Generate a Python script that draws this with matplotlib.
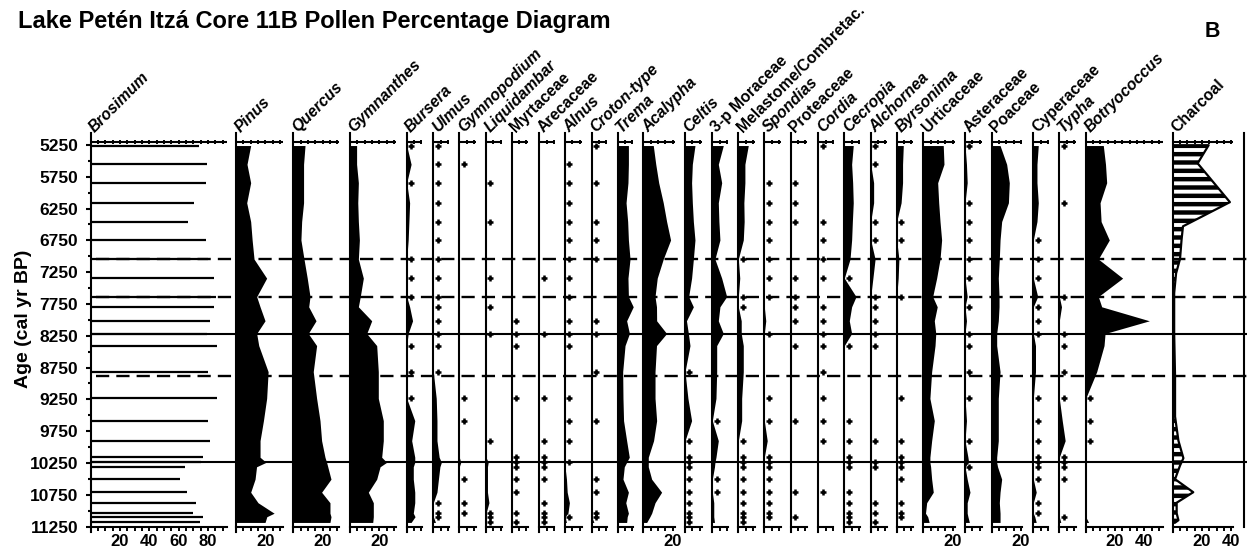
import numpy as np
import matplotlib
matplotlib.use("Agg")
import matplotlib.pyplot as plt
from matplotlib import transforms
from matplotlib.ticker import FixedLocator, MultipleLocator, NullFormatter

plt.rcParams['font.family'] = ['Liberation Sans', 'DejaVu Sans']
plt.rcParams['font.weight'] = 'bold'
plt.rcParams['hatch.linewidth'] = 3.2

# ---------------- data ----------------
ages = [5260, 5555, 5845, 6160, 6455, 6745, 7045, 7345, 7635, 7795, 8015, 8215, 8405,
        8815, 9235, 9585, 9900, 10160, 10240, 10310, 10505, 10710, 10875, 11040, 11095, 11185]

brosimum = [73.8, 79, 78.4, 70.6, 66, 78.4, 80, 84.3, 85.4, 84.3, 81.3, 79, 86.3,
            79.7, 86.3, 79.7, 81.4, 76.8, 75, 64.3, 61.1, 65.4, 71.6, 69.5, 76.8, 74.5]
pinus = [10, 7.5, 10, 7.3, 10, 11, 12.3, 20.9, 14.1, 16.4, 19.8, 14.1, 15.5,
         21.9, 20.9, 18.7, 16.4, 16.4, 20.5, 14, 13, 10, 15, 26, 21, 19.8]
quercus = [8, 7, 7, 7, 5.7, 5.2, 7.3, 9.5, 11.4, 10.5, 15.5, 10.2, 15.9,
           13.6, 15.9, 18.2, 19.3, 21.6, 22.7, 23.5, 25.7, 19.3, 25, 25, 25.7, 25]
gymnanthes = [4.5, 4.5, 5.7, 5.3, 5.7, 6.4, 5.7, 9.1, 7, 5.7, 14.8, 11.4, 18.2,
              19.3, 19.3, 22.7, 22.7, 21.6, 25, 20.5, 18.2, 12.5, 15.9, 15.9, 15.9, 15.5]
bursera = [0.5, 3, 0.5, 2, 1.5, 1, 0.5, 0.5, 0.5, 2, 4, 1, 0.5,
           0.5, 0.5, 5.5, 3.4, 5.5, 5.5, 4.5, 4.5, 5.5, 5.5, 4.5, 5.7, 3]
ulmus = [0.5, 0.5, 0.5, 0.5, 0.5, 0.5, 0.5, 0.5, 0.5, 0.5, 0.5, 0.5, 0.5,
         0.5, 2, 2.5, 2.5, 4, 5.5, 4.5, 3.5, 2.5, 0.5, 0.5, 0.5, 1.5]
gymnopodium = [0, 0.5, 0, 0, 0, 0, 0, 0, 0, 0, 0, 0, 0,
               0, 0.5, 0.5, 0, 0, 1, 0, 0.5, 0, 0.5, 0.5, 0, 0]
liquidambar = [0, 0, 0.5, 0, 0.5, 0, 0, 0.5, 0, 0.5, 0, 0.5, 0,
               0, 0, 0, 0.5, 0, 1.5, 1, 1, 1, 2, 0.5, 0.5, 0.5]
myrtaceae = [0, 0, 0, 0, 0, 0, 0, 0, 0, 0, 0.5, 0.5, 0.5,
             0, 0.5, 0, 0, 0.5, 0.5, 0.5, 0.5, 0.5, 0, 0.5, 0, 0.5]
arecaceae = [0, 0, 0, 0, 0, 0, 0, 0.5, 0, 0, 0, 0.5, 0,
             0, 0.5, 0, 0.5, 0.5, 0.5, 0.5, 0.5, 0, 0.5, 0.5, 0.5, 0.5]
alnus = [0, 0.5, 0.5, 0.5, 0.5, 0.5, 0.5, 0.5, 0.5, 0, 0.5, 0.5, 0.5,
         0, 0.5, 0.5, 0.5, 0, 0.5, 0, 1, 1.5, 3, 2, 0.5, 1]
croton = [0.5, 0, 0.5, 0, 0.5, 0.5, 0.5, 0, 0, 0, 0.5, 0.5, 0,
          0.5, 0, 0.5, 0, 0, 0, 0, 0.5, 0.5, 0, 0.5, 0.5, 1.5]
trema = [7.3, 7.3, 7, 5.7, 6.8, 7.3, 8.4, 7, 7.3, 10.6, 6.1, 8, 5,
         3.4, 3.6, 4, 6.1, 7.9, 6.1, 4.5, 3.6, 7.3, 5.5, 7.3, 6.5, 6.1]
acalypha = [6.8, 8.5, 10.5, 13.6, 15.9, 18.6, 13.6, 9.5, 8, 9, 9.1, 15.9, 9,
            8, 8, 9.1, 7, 3.4, 3.4, 3.4, 5.7, 12.5, 8, 5.7, 4.5, 2.3]
celtis = [6.8, 5, 4.5, 5, 5.7, 6.8, 5.7, 4.5, 2.5, 5.7, 1, 2.3, 3.4,
          0.5, 2, 4.5, 0.5, 0.5, 0.5, 0.5, 0.5, 0.5, 0.5, 0.5, 0.5, 0.5]
moraceae_3p = [7.5, 4.1, 6.4, 4.1, 4.5, 5.2, 1.8, 6.4, 9.8, 5.2, 4.1, 7.5, 3,
               3, 2.5, 0.8, 4.1, 2.5, 1.8, 1.5, 0.5, 0.5, 1, 1, 1, 1.5]
melastome = [6.8, 4.5, 4.5, 3.8, 4, 3.4, 0.5, 1, 0.5, 0.5, 2, 2, 3.4,
             3.4, 2.3, 2.3, 0.5, 0.5, 0.5, 0.5, 0.5, 0.5, 0.5, 0.5, 0.5, 0.5]
spondias = [0, 0, 0.5, 0.5, 0.5, 0.5, 0.5, 0.5, 0.5, 0, 1, 0.5, 0,
            0, 0.5, 0.5, 2, 0.5, 0.5, 0.5, 0.5, 0.5, 0.5, 0.5, 0.5, 0]
proteaceae = [0, 0, 0.5, 0.5, 0.5, 0, 0, 0.5, 0.5, 0.5, 0.5, 0, 0.5,
              0, 0, 0.5, 0, 0, 0, 0, 0, 0.5, 0, 0, 0.5, 0]
cordia = [0.5, 0, 0, 0, 0.5, 0.5, 0.5, 0.5, 0, 0.5, 0.5, 0.5, 0.5,
          0.5, 0.5, 0.5, 0.5, 0, 0, 0, 0, 0.5, 0, 0, 0, 0]
cecropia = [6.1, 5, 5.7, 6.1, 5.5, 5, 3.9, 0.5, 8, 5, 3.4, 5, 0.5,
            0, 0, 0.5, 0.5, 0.5, 0.5, 0.5, 0, 0.5, 0.5, 0.5, 0.5, 0.5]
alchornea = [0.5, 0.5, 2, 2, 0.5, 0.5, 3, 1.5, 0.5, 0.5, 0.5, 0.5, 0.5,
             0, 0, 0, 0.5, 0, 0.5, 0.5, 0, 0, 0.5, 0.5, 0, 0.5]
byrsonima = [4.5, 4, 4, 3, 0.5, 0.5, 1.5, 1, 0.5, 0, 0, 0, 0,
             0, 0.5, 0, 0.5, 0.5, 0.5, 0.5, 0.5, 0, 0.5, 0.5, 0.5, 0]
urticaceae = [13.6, 14.1, 9.8, 10.5, 11.4, 12.5, 11.4, 9.1, 6.4, 9.5, 7.5, 8.5, 8,
              5.7, 4.5, 7.5, 5.7, 4.5, 4.5, 5, 5.7, 6.8, 2.3, 1.5, 3, 4]
asteraceae = [0.5, 1, 1.5, 0.5, 0.5, 0.5, 0.5, 0.5, 1.5, 0.5, 1, 0.5, 0.5,
              0.5, 0.5, 1, 0.5, 2, 2.5, 0.5, 1.5, 3.4, 1.5, 1.5, 2, 3]
poaceae = [5.7, 10.2, 12, 11.4, 6.8, 5.7, 5.2, 4.5, 5, 5, 4.5, 3.4, 3.4,
           5.7, 4.5, 4.5, 4.5, 3.4, 3.4, 4, 6.8, 5.7, 5.2, 5.7, 5.7, 5.7]
cyperaceae = [3.4, 2.5, 2.5, 3.4, 2.5, 0.5, 0.5, 0.5, 3, 0.5, 0.5, 0.5, 1.5,
              1.5, 0.5, 0.5, 0.5, 0.5, 0.5, 0.5, 0.5, 2, 0.5, 0.5, 1, 2]
typha = [0.5, 0, 0, 0.5, 0, 0, 0, 0, 0.5, 1.5, 0, 0.5, 0.5,
         0.5, 0.5, 2, 4, 0.5, 0.5, 0.5, 0.5, 0, 0, 0, 0.5, 1]
botryococcus = [12, 13.5, 14.3, 9.8, 10.5, 16.1, 8.6, 25.2, 8.6, 10.9, 43.4, 13.2, 12.5,
                7.5, 0.5, 0.5, 0.5, 0, 0, 0, 0, 0, 0, 0, 0, 2]

charcoal_ages = [5255, 5540, 6150, 6530, 6750, 7040, 7270, 7580, 8215, 8890, 9520, 9900,
                 10175, 10290, 10505, 10710, 10875, 11040, 11150, 11190]
charcoal = [24.5, 17, 39, 7, 6, 5, 2.3, 1, 1, 1.6, 1.6, 3.9,
            7.3, 5, 1.6, 14, 2.7, 2.7, 3.9, 1.5]

taxa_names = ['Brosimum', 'Pinus', 'Quercus', 'Gymnanthes', 'Bursera', 'Ulmus', 'Gymnopodium',
              'Liquidambar', 'Myrtaceae', 'Arecaceae', 'Alnus', 'Croton-type', 'Trema',
              'Acalypha', 'Celtis', '3-p Moraceae', 'Melastome/Combretac.', 'Spondias',
              'Proteaceae', 'Cordia', 'Cecropia', 'Alchornea', 'Byrsonima', 'Urticaceae',
              'Asteraceae', 'Poaceae', 'Cyperaceae', 'Typha', 'Botryococcus', 'Charcoal']
taxa_values = [brosimum, pinus, quercus, gymnanthes, bursera, ulmus, gymnopodium,
               liquidambar, myrtaceae, arecaceae, alnus, croton, trema, acalypha, celtis,
               moraceae_3p, melastome, spondias, proteaceae, cordia, cecropia, alchornea,
               byrsonima, urticaceae, asteraceae, poaceae, cyperaceae, typha, botryococcus,
               charcoal]
italic_names = {'Brosimum', 'Pinus', 'Quercus', 'Gymnanthes', 'Bursera', 'Ulmus', 'Gymnopodium',
                'Liquidambar', 'Alnus', 'Croton-type', 'Trema', 'Acalypha', 'Celtis',
                'Spondias', 'Cordia', 'Cecropia', 'Alchornea', 'Byrsonima', 'Typha',
                'Botryococcus'}

age_ticks = list(range(5250, 11251, 500))
solid_zone_ages = [8215, 10240]
dashed_zone_ages = [7045, 7635, 8890]

title = 'Lake Petén Itzá Core 11B Pollen Percentage Diagram'

# ---------------- layout ----------------
W, H = 1247, 556
PX = 1.467                      # pixels per percent
Y_TOP, Y_BOT = 133, 532         # pixel rows of panel frame
def age_at(ypix):
    return 5250 + (ypix - 144.9) * 15.72
YLIM = (age_at(Y_BOT), age_at(Y_TOP))
TOP_AXIS_AGE = 5200
BOT_AXIS_AGE = 11250

panel_left = [90.7, 236, 293.3, 350, 406.7, 433.3, 459.3, 486, 511.7, 539.3, 565, 591.7,
              617.7, 643.3, 685, 712.3, 738.3, 764.3, 790.7, 818.3, 844.3, 870.7, 896.7,
              923.3, 965, 991.7, 1033.3, 1059.3, 1085.7, 1172.7]
panel_xmax = [93, 32, 31.2, 31.2, 10.5, 11, 11.3, 10.8, 11, 10.3, 11.3, 10.7, 10.7, 21.6,
              11.3, 11, 11.3, 11.3, 11, 10.3, 10.7, 11.3, 11.3, 21.6, 11.3, 20.5, 10.3,
              11.3, 52.5, 41.3]

fig = plt.figure(figsize=(W / 100, H / 100), dpi=100)

def fx(px):
    return px / W

def fy(py):
    return 1 - py / H

lw_axis = 1.5
for i, (name, vals) in enumerate(zip(taxa_names, taxa_values)):
    x0 = panel_left[i]
    xmax = panel_xmax[i]
    ax = fig.add_axes([fx(x0), fy(Y_BOT), xmax * PX / W, (Y_BOT - Y_TOP) / H])
    ax.patch.set_visible(False)
    ax.set_xlim(0, xmax)
    ax.set_ylim(YLIM[0], YLIM[1])
    for s in ('right', 'top'):
        ax.spines[s].set_visible(False)
    ax.spines['left'].set_linewidth(lw_axis)
    ax.spines['bottom'].set_linewidth(lw_axis)
    ax.spines['bottom'].set_position(('data', BOT_AXIS_AGE))

    vals = np.asarray(vals, dtype=float)
    if name == 'Brosimum':
        ax.hlines(ages, 0, vals, color='black', lw=1.6)
    elif name == 'Charcoal':
        ax.fill_betweenx(charcoal_ages, 0, vals, facecolor='white', edgecolor='black',
                         hatch='--', lw=1.6)
    else:
        fillv = np.where(vals >= 1, vals, 0)
        ax.fill_betweenx(ages, 0, fillv, color='black', lw=0)
        rare = (vals > 0) & (vals < 1)
        if rare.any():
            off = transforms.offset_copy(ax.transData, fig=fig, x=4.3, y=0, units='dots')
            ax.plot(np.zeros(rare.sum()), np.asarray(ages)[rare], ls='', marker='+',
                    ms=4.8, mew=1.8, color='black', transform=off, clip_on=False)

    # top axis line with ticks (drawn through the axes scale)
    top_ticks = np.arange(0, xmax + 0.01, 5)
    ax.plot([0, xmax], [TOP_AXIS_AGE, TOP_AXIS_AGE], color='black', lw=lw_axis,
            clip_on=False, solid_capstyle='butt')
    ax.vlines(top_ticks[1:], TOP_AXIS_AGE - 25, TOP_AXIS_AGE + 40, color='black',
              lw=1.4, clip_on=False)

    # bottom axis ticks
    major = [v for v in range(20, int(xmax) + 1, 20)]
    ax.xaxis.set_major_locator(FixedLocator(major))
    ax.xaxis.set_minor_locator(MultipleLocator(5))
    ax.xaxis.set_minor_formatter(NullFormatter())
    ax.tick_params(axis='x', which='both', direction='out', length=3.2, width=1.4,
                   labelsize=12, pad=2.0, top=False)
    for lab in ax.get_xticklabels():
        lab.set_fontweight('bold')

    if name == 'Brosimum':
        ax.yaxis.set_major_locator(FixedLocator(age_ticks))
        ax.yaxis.set_minor_locator(FixedLocator([a + 250 for a in age_ticks[:-1]]))
        ax.tick_params(axis='y', which='major', direction='out', length=3.6, width=1.5,
                       labelsize=12.5, pad=5.5)
        ax.tick_params(axis='y', which='minor', direction='out', length=2.2, width=1.5)
        ax.set_yticklabels([str(a) for a in age_ticks], fontweight='bold')
    else:
        ax.tick_params(axis='y', which='both', left=False, labelleft=False)

    fig.text(fx(x0 + 4.5), fy(133), name, rotation=45, rotation_mode='anchor',
             ha='left', va='baseline', fontsize=11.3, fontweight='bold',
             fontstyle='italic' if name in italic_names else 'normal')

# overlay for zone lines and right frame line
axo = fig.add_axes([fx(90.7), fy(Y_BOT), (W - 90.7) / W, (Y_BOT - Y_TOP) / H])
axo.patch.set_visible(False)
axo.set_xlim(0, 1)
axo.set_ylim(YLIM[0], YLIM[1])
axo.axis('off')
axo.hlines(solid_zone_ages, 0, 1, color='black', lw=1.5, clip_on=False)
axo.hlines(dashed_zone_ages, 0.005, 1, color='black', lw=1.7,
           linestyles=[(0, (5.6, 3.0))], clip_on=False)
xr = (1244 - 90.7) / (W - 90.7)
axo.plot([xr, xr], [YLIM[1], BOT_AXIS_AGE], color='black', lw=1.5, clip_on=False)

fig.text(fx(18), fy(28.3), title, fontsize=17, fontweight='bold', ha='left', va='baseline')
fig.text(fx(1205), fy(36.7), 'B', fontsize=15.5, fontweight='bold', ha='left', va='baseline')
fig.text(fx(24), fy(319), 'Age (cal yr BP)', fontsize=14, fontweight='bold',
         rotation=90, ha='center', va='center')

fig.savefig('out.png', dpi=100)
